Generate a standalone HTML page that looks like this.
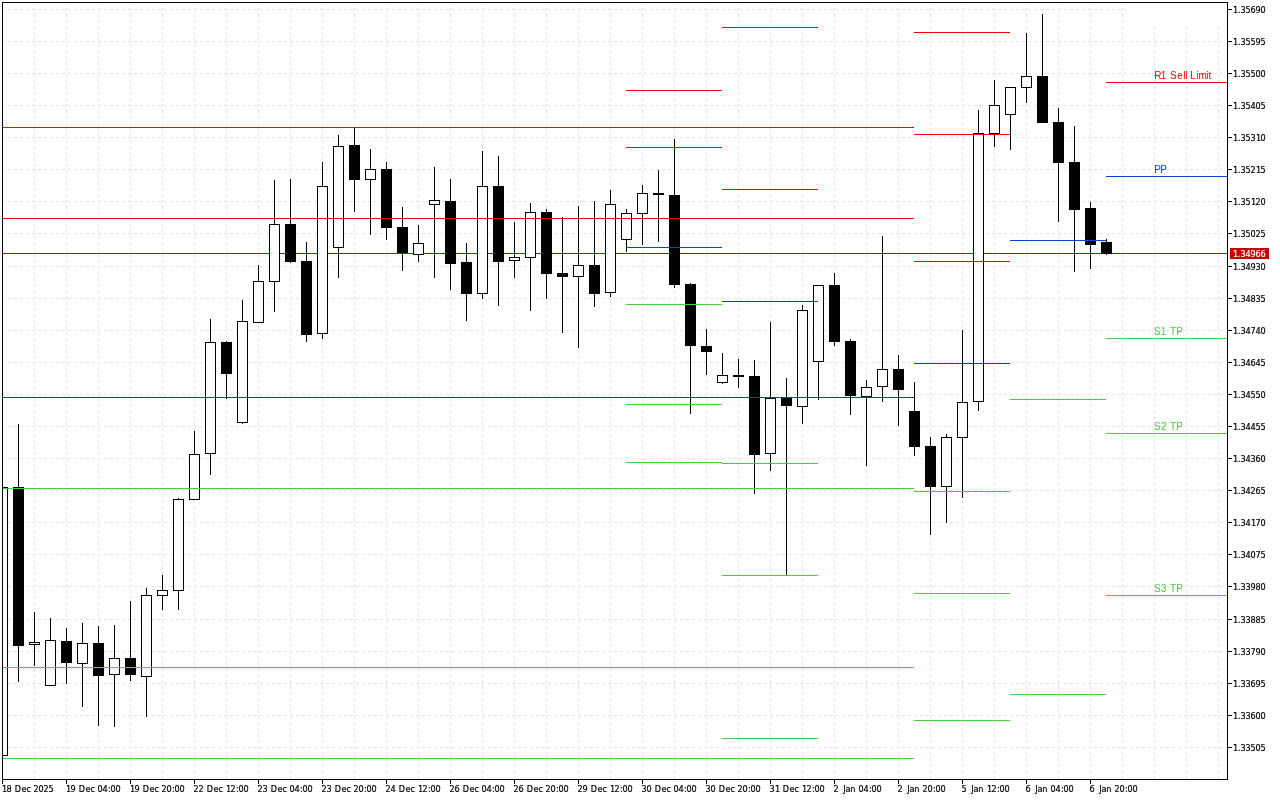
<!DOCTYPE html>
<html lang="en"><head><meta charset="utf-8"><title>GBPUSD H4 pivot chart</title>
<style>
html,body{margin:0;padding:0;background:#fff;overflow:hidden}
body{width:1280px;height:800px}
svg{display:block;position:absolute;left:0;top:0}
.ax{font-family:"DejaVu Sans Condensed","DejaVu Sans","Liberation Sans",sans-serif;font-size:9px;font-stretch:condensed;fill:#000;stroke:#000;stroke-width:0.2px}
.lb{font-family:"Liberation Sans",sans-serif;font-size:10px}
</style></head><body>
<svg width="1280" height="800" viewBox="0 0 1280 800">
<rect x="0" y="0" width="1280" height="800" fill="#fff"/>
<g shape-rendering="crispEdges" stroke="#e4e4e4" stroke-width="1" stroke-dasharray="3 3" fill="none">
<line x1="2" y1="9.5" x2="1227" y2="9.5"/>
<line x1="2" y1="41.5" x2="1227" y2="41.5"/>
<line x1="2" y1="73.5" x2="1227" y2="73.5"/>
<line x1="2" y1="105.5" x2="1227" y2="105.5"/>
<line x1="2" y1="137.5" x2="1227" y2="137.5"/>
<line x1="2" y1="169.5" x2="1227" y2="169.5"/>
<line x1="2" y1="201.5" x2="1227" y2="201.5"/>
<line x1="2" y1="233.5" x2="1227" y2="233.5"/>
<line x1="2" y1="266.5" x2="1227" y2="266.5"/>
<line x1="2" y1="298.5" x2="1227" y2="298.5"/>
<line x1="2" y1="330.5" x2="1227" y2="330.5"/>
<line x1="2" y1="362.5" x2="1227" y2="362.5"/>
<line x1="2" y1="394.5" x2="1227" y2="394.5"/>
<line x1="2" y1="426.5" x2="1227" y2="426.5"/>
<line x1="2" y1="458.5" x2="1227" y2="458.5"/>
<line x1="2" y1="490.5" x2="1227" y2="490.5"/>
<line x1="2" y1="522.5" x2="1227" y2="522.5"/>
<line x1="2" y1="554.5" x2="1227" y2="554.5"/>
<line x1="2" y1="586.5" x2="1227" y2="586.5"/>
<line x1="2" y1="619.5" x2="1227" y2="619.5"/>
<line x1="2" y1="651.5" x2="1227" y2="651.5"/>
<line x1="2" y1="683.5" x2="1227" y2="683.5"/>
<line x1="2" y1="715.5" x2="1227" y2="715.5"/>
<line x1="2" y1="747.5" x2="1227" y2="747.5"/>
<line x1="34.5" y1="2" x2="34.5" y2="779"/>
<line x1="66.5" y1="2" x2="66.5" y2="779"/>
<line x1="98.5" y1="2" x2="98.5" y2="779"/>
<line x1="130.5" y1="2" x2="130.5" y2="779"/>
<line x1="162.5" y1="2" x2="162.5" y2="779"/>
<line x1="194.5" y1="2" x2="194.5" y2="779"/>
<line x1="226.5" y1="2" x2="226.5" y2="779"/>
<line x1="258.5" y1="2" x2="258.5" y2="779"/>
<line x1="290.5" y1="2" x2="290.5" y2="779"/>
<line x1="322.5" y1="2" x2="322.5" y2="779"/>
<line x1="354.5" y1="2" x2="354.5" y2="779"/>
<line x1="386.5" y1="2" x2="386.5" y2="779"/>
<line x1="418.5" y1="2" x2="418.5" y2="779"/>
<line x1="450.5" y1="2" x2="450.5" y2="779"/>
<line x1="482.5" y1="2" x2="482.5" y2="779"/>
<line x1="514.5" y1="2" x2="514.5" y2="779"/>
<line x1="546.5" y1="2" x2="546.5" y2="779"/>
<line x1="578.5" y1="2" x2="578.5" y2="779"/>
<line x1="610.5" y1="2" x2="610.5" y2="779"/>
<line x1="642.5" y1="2" x2="642.5" y2="779"/>
<line x1="674.5" y1="2" x2="674.5" y2="779"/>
<line x1="706.5" y1="2" x2="706.5" y2="779"/>
<line x1="738.5" y1="2" x2="738.5" y2="779"/>
<line x1="770.5" y1="2" x2="770.5" y2="779"/>
<line x1="802.5" y1="2" x2="802.5" y2="779"/>
<line x1="834.5" y1="2" x2="834.5" y2="779"/>
<line x1="866.5" y1="2" x2="866.5" y2="779"/>
<line x1="898.5" y1="2" x2="898.5" y2="779"/>
<line x1="930.5" y1="2" x2="930.5" y2="779"/>
<line x1="962.5" y1="2" x2="962.5" y2="779"/>
<line x1="994.5" y1="2" x2="994.5" y2="779"/>
<line x1="1026.5" y1="2" x2="1026.5" y2="779"/>
<line x1="1058.5" y1="2" x2="1058.5" y2="779"/>
<line x1="1090.5" y1="2" x2="1090.5" y2="779"/>
<line x1="1122.5" y1="2" x2="1122.5" y2="779"/>
<line x1="1154.5" y1="2" x2="1154.5" y2="779"/>
<line x1="1186.5" y1="2" x2="1186.5" y2="779"/>
<line x1="1218.5" y1="2" x2="1218.5" y2="779"/>
</g>
<rect x="1128" y="3" width="99" height="23" fill="#fff"/>
<g shape-rendering="crispEdges">
<rect x="3" y="253" width="1224" height="1" fill="#c80000"/>
<clipPath id="cp"><rect x="2" y="2" width="1226" height="778"/></clipPath>
<g clip-path="url(#cp)">
<rect x="2" y="487" width="1" height="269" fill="#000"/>
<rect x="-3" y="487" width="11" height="269" fill="#000"/>
<rect x="-2" y="488" width="9" height="267" fill="#fff"/>
<rect x="18" y="424" width="1" height="258" fill="#000"/>
<rect x="13" y="487" width="11" height="159" fill="#000"/>
<rect x="34" y="612" width="1" height="54" fill="#000"/>
<rect x="29" y="642" width="11" height="3" fill="#000"/>
<rect x="30" y="643" width="9" height="1" fill="#fff"/>
<rect x="50" y="618" width="1" height="68" fill="#000"/>
<rect x="45" y="640" width="11" height="46" fill="#000"/>
<rect x="46" y="641" width="9" height="44" fill="#fff"/>
<rect x="66" y="628" width="1" height="56" fill="#000"/>
<rect x="61" y="641" width="11" height="22" fill="#000"/>
<rect x="82" y="623" width="1" height="84" fill="#000"/>
<rect x="77" y="643" width="11" height="21" fill="#000"/>
<rect x="78" y="644" width="9" height="19" fill="#fff"/>
<rect x="98" y="626" width="1" height="100" fill="#000"/>
<rect x="93" y="643" width="11" height="33" fill="#000"/>
<rect x="114" y="625" width="1" height="102" fill="#000"/>
<rect x="109" y="658" width="11" height="17" fill="#000"/>
<rect x="110" y="659" width="9" height="15" fill="#fff"/>
<rect x="130" y="601" width="1" height="80" fill="#000"/>
<rect x="125" y="658" width="11" height="17" fill="#000"/>
<rect x="146" y="588" width="1" height="129" fill="#000"/>
<rect x="141" y="595" width="11" height="82" fill="#000"/>
<rect x="142" y="596" width="9" height="80" fill="#fff"/>
<rect x="162" y="575" width="1" height="35" fill="#000"/>
<rect x="157" y="590" width="11" height="6" fill="#000"/>
<rect x="158" y="591" width="9" height="4" fill="#fff"/>
<rect x="178" y="498" width="1" height="112" fill="#000"/>
<rect x="173" y="499" width="11" height="92" fill="#000"/>
<rect x="174" y="500" width="9" height="90" fill="#fff"/>
<rect x="194" y="431" width="1" height="69" fill="#000"/>
<rect x="189" y="454" width="11" height="46" fill="#000"/>
<rect x="190" y="455" width="9" height="44" fill="#fff"/>
<rect x="210" y="319" width="1" height="156" fill="#000"/>
<rect x="205" y="342" width="11" height="112" fill="#000"/>
<rect x="206" y="343" width="9" height="110" fill="#fff"/>
<rect x="226" y="341" width="1" height="58" fill="#000"/>
<rect x="221" y="342" width="11" height="32" fill="#000"/>
<rect x="242" y="300" width="1" height="124" fill="#000"/>
<rect x="237" y="321" width="11" height="102" fill="#000"/>
<rect x="238" y="322" width="9" height="100" fill="#fff"/>
<rect x="258" y="265" width="1" height="58" fill="#000"/>
<rect x="253" y="281" width="11" height="42" fill="#000"/>
<rect x="254" y="282" width="9" height="40" fill="#fff"/>
<rect x="274" y="180" width="1" height="132" fill="#000"/>
<rect x="269" y="224" width="11" height="58" fill="#000"/>
<rect x="270" y="225" width="9" height="56" fill="#fff"/>
<rect x="290" y="179" width="1" height="84" fill="#000"/>
<rect x="285" y="224" width="11" height="38" fill="#000"/>
<rect x="306" y="242" width="1" height="100" fill="#000"/>
<rect x="301" y="261" width="11" height="74" fill="#000"/>
<rect x="322" y="162" width="1" height="177" fill="#000"/>
<rect x="317" y="186" width="11" height="148" fill="#000"/>
<rect x="318" y="187" width="9" height="146" fill="#fff"/>
<rect x="338" y="135" width="1" height="143" fill="#000"/>
<rect x="333" y="146" width="11" height="102" fill="#000"/>
<rect x="334" y="147" width="9" height="100" fill="#fff"/>
<rect x="354" y="128" width="1" height="84" fill="#000"/>
<rect x="349" y="145" width="11" height="35" fill="#000"/>
<rect x="370" y="149" width="1" height="86" fill="#000"/>
<rect x="365" y="169" width="11" height="11" fill="#000"/>
<rect x="366" y="170" width="9" height="9" fill="#fff"/>
<rect x="386" y="162" width="1" height="78" fill="#000"/>
<rect x="381" y="169" width="11" height="59" fill="#000"/>
<rect x="402" y="207" width="1" height="64" fill="#000"/>
<rect x="397" y="227" width="11" height="26" fill="#000"/>
<rect x="418" y="225" width="1" height="37" fill="#000"/>
<rect x="413" y="243" width="11" height="12" fill="#000"/>
<rect x="414" y="244" width="9" height="10" fill="#fff"/>
<rect x="434" y="167" width="1" height="111" fill="#000"/>
<rect x="429" y="200" width="11" height="5" fill="#000"/>
<rect x="430" y="201" width="9" height="3" fill="#fff"/>
<rect x="450" y="179" width="1" height="111" fill="#000"/>
<rect x="445" y="201" width="11" height="63" fill="#000"/>
<rect x="466" y="243" width="1" height="78" fill="#000"/>
<rect x="461" y="262" width="11" height="32" fill="#000"/>
<rect x="482" y="151" width="1" height="148" fill="#000"/>
<rect x="477" y="186" width="11" height="108" fill="#000"/>
<rect x="478" y="187" width="9" height="106" fill="#fff"/>
<rect x="498" y="156" width="1" height="150" fill="#000"/>
<rect x="493" y="186" width="11" height="76" fill="#000"/>
<rect x="514" y="222" width="1" height="56" fill="#000"/>
<rect x="509" y="257" width="11" height="4" fill="#000"/>
<rect x="510" y="258" width="9" height="2" fill="#fff"/>
<rect x="530" y="203" width="1" height="108" fill="#000"/>
<rect x="525" y="212" width="11" height="46" fill="#000"/>
<rect x="526" y="213" width="9" height="44" fill="#fff"/>
<rect x="546" y="209" width="1" height="90" fill="#000"/>
<rect x="541" y="212" width="11" height="62" fill="#000"/>
<rect x="562" y="217" width="1" height="116" fill="#000"/>
<rect x="557" y="273" width="11" height="4" fill="#000"/>
<rect x="578" y="206" width="1" height="142" fill="#000"/>
<rect x="573" y="265" width="11" height="12" fill="#000"/>
<rect x="574" y="266" width="9" height="10" fill="#fff"/>
<rect x="594" y="201" width="1" height="106" fill="#000"/>
<rect x="589" y="265" width="11" height="29" fill="#000"/>
<rect x="610" y="190" width="1" height="107" fill="#000"/>
<rect x="605" y="204" width="11" height="89" fill="#000"/>
<rect x="606" y="205" width="9" height="87" fill="#fff"/>
<rect x="626" y="209" width="1" height="43" fill="#000"/>
<rect x="621" y="213" width="11" height="27" fill="#000"/>
<rect x="622" y="214" width="9" height="25" fill="#fff"/>
<rect x="642" y="185" width="1" height="60" fill="#000"/>
<rect x="637" y="193" width="11" height="21" fill="#000"/>
<rect x="638" y="194" width="9" height="19" fill="#fff"/>
<rect x="658" y="170" width="1" height="72" fill="#000"/>
<rect x="653" y="193" width="11" height="2" fill="#000"/>
<rect x="674" y="139" width="1" height="149" fill="#000"/>
<rect x="669" y="195" width="11" height="90" fill="#000"/>
<rect x="690" y="283" width="1" height="131" fill="#000"/>
<rect x="685" y="284" width="11" height="62" fill="#000"/>
<rect x="706" y="329" width="1" height="46" fill="#000"/>
<rect x="701" y="346" width="11" height="6" fill="#000"/>
<rect x="722" y="353" width="1" height="31" fill="#000"/>
<rect x="717" y="375" width="11" height="8" fill="#000"/>
<rect x="718" y="376" width="9" height="6" fill="#fff"/>
<rect x="738" y="359" width="1" height="29" fill="#000"/>
<rect x="733" y="375" width="11" height="2" fill="#000"/>
<rect x="754" y="360" width="1" height="134" fill="#000"/>
<rect x="749" y="376" width="11" height="79" fill="#000"/>
<rect x="770" y="322" width="1" height="149" fill="#000"/>
<rect x="765" y="398" width="11" height="56" fill="#000"/>
<rect x="766" y="399" width="9" height="54" fill="#fff"/>
<rect x="786" y="378" width="1" height="197" fill="#000"/>
<rect x="781" y="398" width="11" height="8" fill="#000"/>
<rect x="802" y="305" width="1" height="119" fill="#000"/>
<rect x="797" y="310" width="11" height="97" fill="#000"/>
<rect x="798" y="311" width="9" height="95" fill="#fff"/>
<rect x="818" y="285" width="1" height="115" fill="#000"/>
<rect x="813" y="285" width="11" height="77" fill="#000"/>
<rect x="814" y="286" width="9" height="75" fill="#fff"/>
<rect x="834" y="273" width="1" height="73" fill="#000"/>
<rect x="829" y="285" width="11" height="57" fill="#000"/>
<rect x="850" y="339" width="1" height="76" fill="#000"/>
<rect x="845" y="341" width="11" height="55" fill="#000"/>
<rect x="866" y="380" width="1" height="86" fill="#000"/>
<rect x="861" y="387" width="11" height="10" fill="#000"/>
<rect x="862" y="388" width="9" height="8" fill="#fff"/>
<rect x="882" y="236" width="1" height="166" fill="#000"/>
<rect x="877" y="369" width="11" height="18" fill="#000"/>
<rect x="878" y="370" width="9" height="16" fill="#fff"/>
<rect x="898" y="355" width="1" height="71" fill="#000"/>
<rect x="893" y="369" width="11" height="21" fill="#000"/>
<rect x="914" y="382" width="1" height="74" fill="#000"/>
<rect x="909" y="411" width="11" height="36" fill="#000"/>
<rect x="930" y="437" width="1" height="98" fill="#000"/>
<rect x="925" y="446" width="11" height="41" fill="#000"/>
<rect x="946" y="434" width="1" height="89" fill="#000"/>
<rect x="941" y="437" width="11" height="50" fill="#000"/>
<rect x="942" y="438" width="9" height="48" fill="#fff"/>
<rect x="962" y="330" width="1" height="168" fill="#000"/>
<rect x="957" y="402" width="11" height="36" fill="#000"/>
<rect x="958" y="403" width="9" height="34" fill="#fff"/>
<rect x="978" y="110" width="1" height="301" fill="#000"/>
<rect x="973" y="133" width="11" height="269" fill="#000"/>
<rect x="974" y="134" width="9" height="267" fill="#fff"/>
<rect x="994" y="80" width="1" height="67" fill="#000"/>
<rect x="989" y="105" width="11" height="29" fill="#000"/>
<rect x="990" y="106" width="9" height="27" fill="#fff"/>
<rect x="1010" y="87" width="1" height="63" fill="#000"/>
<rect x="1005" y="87" width="11" height="28" fill="#000"/>
<rect x="1006" y="88" width="9" height="26" fill="#fff"/>
<rect x="1026" y="33" width="1" height="70" fill="#000"/>
<rect x="1021" y="76" width="11" height="12" fill="#000"/>
<rect x="1022" y="77" width="9" height="10" fill="#fff"/>
<rect x="1042" y="14" width="1" height="109" fill="#000"/>
<rect x="1037" y="76" width="11" height="47" fill="#000"/>
<rect x="1058" y="108" width="1" height="114" fill="#000"/>
<rect x="1053" y="122" width="11" height="41" fill="#000"/>
<rect x="1074" y="126" width="1" height="146" fill="#000"/>
<rect x="1069" y="162" width="11" height="48" fill="#000"/>
<rect x="1090" y="202" width="1" height="67" fill="#000"/>
<rect x="1085" y="208" width="11" height="37" fill="#000"/>
<rect x="1106" y="239" width="1" height="16" fill="#000"/>
<rect x="1101" y="242" width="11" height="12" fill="#000"/>
</g>
<rect x="3" y="127" width="911" height="1" fill="#ff0000"/>
<rect x="3" y="218" width="911" height="1" fill="#ff0000"/>
<rect x="626" y="90" width="96" height="1" fill="#ff0000"/>
<rect x="626" y="147" width="96" height="1" fill="#ff0000"/>
<rect x="722" y="27" width="96" height="1" fill="#ff0000"/>
<rect x="722" y="189" width="96" height="1" fill="#ff0000"/>
<rect x="914" y="32" width="96" height="1" fill="#ff0000"/>
<rect x="914" y="134" width="96" height="1" fill="#ff0000"/>
<rect x="914" y="261" width="96" height="1" fill="#ff0000"/>
<rect x="1106" y="82" width="121" height="1" fill="#ff0000"/>
<rect x="3" y="397" width="911" height="1" fill="#0046da"/>
<rect x="626" y="247" width="96" height="1" fill="#0046da"/>
<rect x="722" y="301" width="96" height="1" fill="#0046da"/>
<rect x="914" y="363" width="96" height="1" fill="#0046da"/>
<rect x="1010" y="240" width="96" height="1" fill="#0046da"/>
<rect x="1106" y="176" width="121" height="1" fill="#0046da"/>
<rect x="3" y="488" width="911" height="1" fill="#3ed434"/>
<rect x="3" y="667" width="911" height="1" fill="#3ed434"/>
<rect x="3" y="758" width="911" height="1" fill="#3ed434"/>
<rect x="626" y="304" width="96" height="1" fill="#3ed434"/>
<rect x="626" y="404" width="96" height="1" fill="#3ed434"/>
<rect x="626" y="462" width="96" height="1" fill="#3ed434"/>
<rect x="722" y="463" width="96" height="1" fill="#3ed434"/>
<rect x="722" y="575" width="96" height="1" fill="#3ed434"/>
<rect x="722" y="738" width="96" height="1" fill="#3ed434"/>
<rect x="914" y="491" width="96" height="1" fill="#3ed434"/>
<rect x="914" y="593" width="96" height="1" fill="#3ed434"/>
<rect x="914" y="720" width="96" height="1" fill="#3ed434"/>
<rect x="1010" y="399" width="96" height="1" fill="#3ed434"/>
<rect x="1010" y="694" width="96" height="1" fill="#3ed434"/>
<rect x="1106" y="338" width="121" height="1" fill="#3ed434"/>
<rect x="1106" y="433" width="121" height="1" fill="#3ed434"/>
<rect x="1106" y="595" width="121" height="1" fill="#3ed434"/>
<rect x="2" y="2" width="1226" height="1" fill="#000"/>
<rect x="2" y="2" width="1" height="778" fill="#000"/>
<rect x="1227" y="2" width="1" height="778" fill="#000"/>
<rect x="2" y="779" width="1226" height="1" fill="#000"/>
<rect x="1228" y="9" width="4" height="1" fill="#000"/>
<rect x="1228" y="41" width="4" height="1" fill="#000"/>
<rect x="1228" y="73" width="4" height="1" fill="#000"/>
<rect x="1228" y="105" width="4" height="1" fill="#000"/>
<rect x="1228" y="137" width="4" height="1" fill="#000"/>
<rect x="1228" y="169" width="4" height="1" fill="#000"/>
<rect x="1228" y="201" width="4" height="1" fill="#000"/>
<rect x="1228" y="233" width="4" height="1" fill="#000"/>
<rect x="1228" y="266" width="4" height="1" fill="#000"/>
<rect x="1228" y="298" width="4" height="1" fill="#000"/>
<rect x="1228" y="330" width="4" height="1" fill="#000"/>
<rect x="1228" y="362" width="4" height="1" fill="#000"/>
<rect x="1228" y="394" width="4" height="1" fill="#000"/>
<rect x="1228" y="426" width="4" height="1" fill="#000"/>
<rect x="1228" y="458" width="4" height="1" fill="#000"/>
<rect x="1228" y="490" width="4" height="1" fill="#000"/>
<rect x="1228" y="522" width="4" height="1" fill="#000"/>
<rect x="1228" y="554" width="4" height="1" fill="#000"/>
<rect x="1228" y="586" width="4" height="1" fill="#000"/>
<rect x="1228" y="619" width="4" height="1" fill="#000"/>
<rect x="1228" y="651" width="4" height="1" fill="#000"/>
<rect x="1228" y="683" width="4" height="1" fill="#000"/>
<rect x="1228" y="715" width="4" height="1" fill="#000"/>
<rect x="1228" y="747" width="4" height="1" fill="#000"/>
<rect x="2" y="780" width="1" height="4" fill="#000"/>
<rect x="66" y="780" width="1" height="4" fill="#000"/>
<rect x="130" y="780" width="1" height="4" fill="#000"/>
<rect x="194" y="780" width="1" height="4" fill="#000"/>
<rect x="258" y="780" width="1" height="4" fill="#000"/>
<rect x="322" y="780" width="1" height="4" fill="#000"/>
<rect x="386" y="780" width="1" height="4" fill="#000"/>
<rect x="450" y="780" width="1" height="4" fill="#000"/>
<rect x="514" y="780" width="1" height="4" fill="#000"/>
<rect x="578" y="780" width="1" height="4" fill="#000"/>
<rect x="642" y="780" width="1" height="4" fill="#000"/>
<rect x="706" y="780" width="1" height="4" fill="#000"/>
<rect x="770" y="780" width="1" height="4" fill="#000"/>
<rect x="834" y="780" width="1" height="4" fill="#000"/>
<rect x="898" y="780" width="1" height="4" fill="#000"/>
<rect x="962" y="780" width="1" height="4" fill="#000"/>
<rect x="1026" y="780" width="1" height="4" fill="#000"/>
<rect x="1090" y="780" width="1" height="4" fill="#000"/>
<rect x="1230" y="248" width="39" height="11" fill="#c80000"/>
</g>
<text class="ax" x="1233 1238 1240.5 1245.5 1250.5 1255.5 1260.5" y="13">1.35690</text>
<text class="ax" x="1233 1238 1240.5 1245.5 1250.5 1255.5 1260.5" y="45">1.35595</text>
<text class="ax" x="1233 1238 1240.5 1245.5 1250.5 1255.5 1260.5" y="77">1.35500</text>
<text class="ax" x="1233 1238 1240.5 1245.5 1250.6 1255.5 1260.5" y="109">1.35405</text>
<text class="ax" x="1233 1238 1240.5 1245.5 1250.5 1256 1260.5" y="141">1.35310</text>
<text class="ax" x="1233 1238 1240.5 1245.5 1250.5 1256 1260.5" y="173">1.35215</text>
<text class="ax" x="1233 1238 1240.5 1245.5 1251 1255.5 1260.5" y="205">1.35120</text>
<text class="ax" x="1233 1238 1240.5 1245.5 1250.5 1255.5 1260.5" y="237">1.35025</text>
<text class="ax" x="1233 1238 1240.5 1245.6 1250.5 1255.5 1260.5" y="270">1.34930</text>
<text class="ax" x="1233 1238 1240.5 1245.6 1250.5 1255.5 1260.5" y="302">1.34835</text>
<text class="ax" x="1233 1238 1240.5 1245.6 1250.5 1255.6 1260.5" y="334">1.34740</text>
<text class="ax" x="1233 1238 1240.5 1245.6 1250.5 1255.6 1260.5" y="366">1.34645</text>
<text class="ax" x="1233 1238 1240.5 1245.6 1250.5 1255.5 1260.5" y="398">1.34550</text>
<text class="ax" x="1233 1238 1240.5 1245.6 1250.6 1255.5 1260.5" y="430">1.34455</text>
<text class="ax" x="1233 1238 1240.5 1245.6 1250.5 1255.5 1260.5" y="462">1.34360</text>
<text class="ax" x="1233 1238 1240.5 1245.6 1250.5 1255.5 1260.5" y="494">1.34265</text>
<text class="ax" x="1233 1238 1240.5 1245.6 1251 1255.5 1260.5" y="526">1.34170</text>
<text class="ax" x="1233 1238 1240.5 1245.6 1250.5 1255.5 1260.5" y="558">1.34075</text>
<text class="ax" x="1233 1238 1240.5 1245.5 1250.5 1255.5 1260.5" y="590">1.33980</text>
<text class="ax" x="1233 1238 1240.5 1245.5 1250.5 1255.5 1260.5" y="623">1.33885</text>
<text class="ax" x="1233 1238 1240.5 1245.5 1250.5 1255.5 1260.5" y="655">1.33790</text>
<text class="ax" x="1233 1238 1240.5 1245.5 1250.5 1255.5 1260.5" y="687">1.33695</text>
<text class="ax" x="1233 1238 1240.5 1245.5 1250.5 1255.5 1260.5" y="719">1.33600</text>
<text class="ax" x="1233 1238 1240.5 1245.5 1250.5 1255.5 1260.5" y="751">1.33505</text>
<text class="ax" x="1233 1238 1240.5 1245.6 1250.5 1255.5 1260.5" y="257" style="fill:#fff;stroke:#fff">1.34966</text>
<text class="ax" x="2 6.5 11.5 14.7 21.5 26.5 30.5 33.5 38.5 43.5 48.5" y="792">18 Dec 2025</text>
<text class="ax" x="66 70.5 75.5 78.7 85.5 90.5 94.5 97.5 102.6 108 110.5 115.5" y="792">19 Dec 04:00</text>
<text class="ax" x="130 134.5 139.5 142.7 149.5 154.5 158.5 161.5 166.5 172 174.5 179.5" y="792">19 Dec 20:00</text>
<text class="ax" x="193.5 198.5 203.5 206.7 213.5 218.5 222.5 226 230.5 236 238.5 243.5" y="792">22 Dec 12:00</text>
<text class="ax" x="257.5 262.5 267.5 270.7 277.5 282.5 286.5 289.5 294.6 300 302.5 307.5" y="792">23 Dec 04:00</text>
<text class="ax" x="321.5 326.5 331.5 334.7 341.5 346.5 350.5 353.5 358.5 364 366.5 371.5" y="792">23 Dec 20:00</text>
<text class="ax" x="385.5 390.6 395.5 398.7 405.5 410.5 414.5 418 422.5 428 430.5 435.5" y="792">24 Dec 12:00</text>
<text class="ax" x="449.5 454.5 459.5 462.7 469.5 474.5 478.5 481.5 486.6 492 494.5 499.5" y="792">26 Dec 04:00</text>
<text class="ax" x="513.5 518.5 523.5 526.7 533.5 538.5 542.5 545.5 550.5 556 558.5 563.5" y="792">26 Dec 20:00</text>
<text class="ax" x="577.5 582.5 587.5 590.7 597.5 602.5 606.5 610 614.5 620 622.5 627.5" y="792">29 Dec 12:00</text>
<text class="ax" x="641.5 646.5 651.5 654.7 661.5 666.5 670.5 673.5 678.6 684 686.5 691.5" y="792">30 Dec 04:00</text>
<text class="ax" x="705.5 710.5 715.5 718.7 725.5 730.5 734.5 737.5 742.5 748 750.5 755.5" y="792">30 Dec 20:00</text>
<text class="ax" x="769.5 775 779.5 782.7 789.5 794.5 798.5 802 806.5 812 814.5 819.5" y="792">31 Dec 12:00</text>
<text class="ax" x="833.5 838.5 843.3 845.5 850.26 855.5 858.5 863.6 869 871.5 876.5" y="792">2 Jan 04:00</text>
<text class="ax" x="897.5 902.5 907.3 909.5 914.26 919.5 922.5 927.5 933 935.5 940.5" y="792">2 Jan 20:00</text>
<text class="ax" x="961.5 966.5 971.3 973.5 978.26 983.5 987 991.5 997 999.5 1004.5" y="792">5 Jan 12:00</text>
<text class="ax" x="1025.5 1030.5 1035.3 1037.5 1042.26 1047.5 1050.5 1055.6 1061 1063.5 1068.5" y="792">6 Jan 04:00</text>
<text class="ax" x="1089.5 1094.5 1099.3 1101.5 1106.26 1111.5 1114.5 1119.5 1125 1127.5 1132.5" y="792">6 Jan 20:00</text>
<text class="lb" x="1154.2 1160.7 1166.7 1170 1177.3 1183.33 1185.33 1187.3 1190.3 1196.33 1198.6 1206.33 1208.5" y="79" fill="#ff0000">R1 Sell Limit</text>
<text class="lb" x="1154.24 1160.24" y="173" fill="#0046da">PP</text>
<text class="lb" x="1154 1160.7 1166.7 1170 1176.2" y="335" fill="#3ed434">S1 TP</text>
<text class="lb" x="1154 1161 1167 1170 1176.2" y="430" fill="#3ed434">S2 TP</text>
<text class="lb" x="1154 1161 1167 1170 1176.2" y="592" fill="#3ed434">S3 TP</text>
</svg></body></html>
